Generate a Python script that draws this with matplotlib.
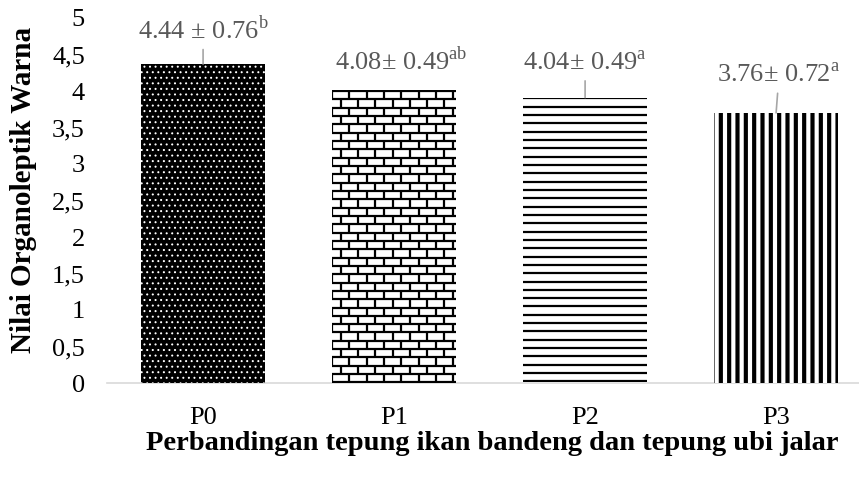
import matplotlib
matplotlib.use("Agg")
import matplotlib.pyplot as plt
from matplotlib.collections import LineCollection
import numpy as np

plt.rcParams['font.family'] = ['Liberation Serif', 'DejaVu Serif']
plt.rcParams['mathtext.fontset'] = 'custom'
plt.rcParams['mathtext.rm'] = 'Liberation Serif'

# data
perlakuan = ['P0', 'P1', 'P2', 'P3']
nilai = [4.37, 4.01, 3.91, 3.70]
label_nilai = ['4.44 ± 0.76$^{\\mathrm{b}}$',
               '4.08± 0.49$^{\\mathrm{ab}}$',
               '4.04± 0.49$^{\\mathrm{a}}$',
               '3.76± 0.72$^{\\mathrm{a}}$']
yticks = [0, 0.5, 1, 1.5, 2, 2.5, 3, 3.5, 4, 4.5, 5]
ytick_labels = ['0', '0,5', '1', '1,5', '2', '2,5', '3', '3,5', '4', '4,5', '5']

# letak label data (dipindah seperti di Excel)
label_dx = [0, 0.035, 0, 0.015]
label_y = [4.84, 4.41, 4.38, 4.21]
pakai_garis = [True, False, True, True]

fig = plt.figure(figsize=(8.59, 4.79), dpi=100)
ax = fig.add_axes([107/859, 1-383/479, 752/859, (383-18)/479])

x = np.arange(len(perlakuan))
lebar_bar = 0.65

# pola tiap batang: (warna isi, warna hatch, hatch, tebal hatch)
pola = [('black', 'white', '...', 0.7),
        ('white', 'black', None, 1.5),
        ('white', 'black', None, 1.5),
        ('white', 'black', '||', 3.0)]

bars = []
for i, (fc, hc, h, hlw) in enumerate(pola):
    with plt.rc_context({'hatch.linewidth': hlw}):
        b = ax.bar(x[i], nilai[i], width=lebar_bar, color=fc, edgecolor=hc,
                   linewidth=0, hatch=h, zorder=2)[0]
    if hasattr(b, 'set_hatch_linewidth'):
        b.set_hatch_linewidth(hlw)
    bars.append(b)


def pola_garis(ax, patch, tinggi=0.114, lebar=0.0906, bata=True):
    x0 = patch.get_x()
    x1 = x0 + patch.get_width()
    h = patch.get_height()
    segs = []
    for k, ytop in enumerate(np.arange(h - 0.012, 0, -tinggi)):
        segs.append([(x0, ytop), (x1, ytop)])
        if not bata:
            continue
        ybot = max(ytop - tinggi, 0)
        off = 0 if k % 2 == 0 else lebar / 2
        for xv in np.arange(x0 + off, x1 + 1e-9, lebar):
            segs.append([(xv, ybot), (xv, min(ytop + 0.012, h))])
    lc = LineCollection(segs, colors='black', linewidths=1.6, zorder=3)
    ax.add_collection(lc)
    lc.set_clip_path(patch)


pola_garis(ax, bars[1])
pola_garis(ax, bars[2], bata=False)

for i in range(len(perlakuan)):
    kw = dict(ha='center', va='center', fontsize=19, color='#595959', zorder=4)
    if pakai_garis[i]:
        kw['arrowprops'] = dict(arrowstyle='-', color='#a6a6a6', lw=1.2,
                                shrinkA=2, shrinkB=0)
    ax.annotate(label_nilai[i], xy=(x[i], nilai[i]),
                xytext=(x[i] + label_dx[i], label_y[i]), **kw)

ax.set_xlim(-0.503, 3.434)
ax.set_ylim(0, 5)
ax.set_xticks(x)
ax.set_xticklabels(perlakuan)
ax.set_yticks(yticks)
ax.set_yticklabels(ytick_labels)
ax.tick_params(axis='both', length=0, labelsize=19, colors='black')
ax.tick_params(axis='x', pad=17)
ax.tick_params(axis='y', pad=16)

for s in ['top', 'right', 'left']:
    ax.spines[s].set_visible(False)
ax.spines['bottom'].set_color('#d9d9d9')
ax.spines['bottom'].set_linewidth(1.2)
ax.spines['bottom'].set_zorder(1)

fig.text(24/859, 1-190/479, 'Nilai Organoleptik Warna', rotation=90,
         ha='center', va='center', fontsize=21, fontweight='bold')
fig.text(492/859, 1-443/479, 'Perbandingan tepung ikan bandeng dan tepung ubi jalar',
         ha='center', va='center', fontsize=20.5, fontweight='bold')

fig.savefig('out.png', dpi=100)
